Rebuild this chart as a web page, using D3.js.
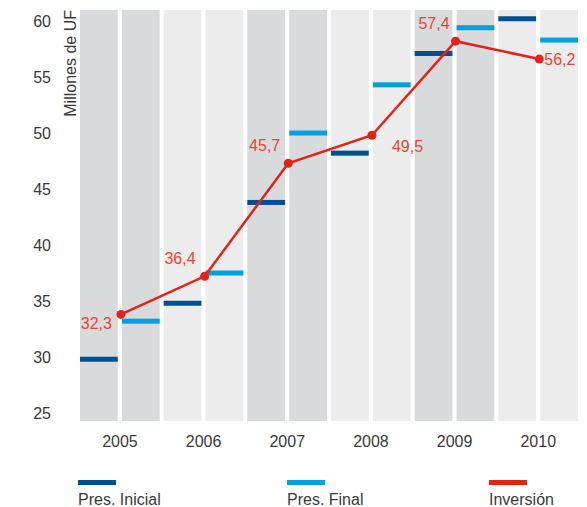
<!DOCTYPE html>
<html>
<head>
<meta charset="utf-8">
<script src="https://cdn.jsdelivr.net/npm/d3@7"></script>
<style>
  body { margin:0; background:#fff; }
  text { font-family:"Liberation Sans", Arial, sans-serif; }
</style>
</head>
<body>
<svg id="chart"></svg>
<script>
// years on the x axis
var years = ["2005","2006","2007","2008","2009","2010"];
// budget bars (millones de UF)
var presInicial = [29.8, 34.8, 43.8, 48.2, 57.1, 60.2];
var presFinal   = [33.2, 37.5, 50.0, 54.3, 59.4, 58.3];
// inversion line, plotted positions and their printed labels
var inversion   = [33.8, 37.2, 47.3, 49.8, 58.2, 56.6];
var invLabels   = ["32,3","36,4","45,7","49,5","57,4","56,2"];
var yTicks      = [25, 30, 35, 40, 45, 50, 55, 60];

var screen = {width:587, height:507};
var plot = {left:80, right:582, top:10, bottom:421};
var fontSize = 16;

var svg = d3.select("#chart")
    .attr("width",screen.width)
    .attr("height",screen.height);

var xScale = d3.scaleBand()
    .domain(years)
    .range([plot.left, plot.right]);

// two sub columns inside each year, with a white gap after each
var subScale = d3.scaleBand()
    .domain(["ini","fin"])
    .range([0, xScale.bandwidth()-4])
    .paddingInner(0.1);

var yScale = d3.scaleLinear()
    .domain([25,60])
    .range([413,21]);

var shades = ["#d9dadc","#ebeceb"];

// background columns
years.forEach(function(year,i)
{
    ["ini","fin"].forEach(function(k)
    {
        svg.append("rect")
            .attr("x",xScale(year)+subScale(k))
            .attr("y",plot.top)
            .attr("width",subScale.bandwidth())
            .attr("height",plot.bottom-plot.top)
            .attr("fill",shades[i%2]);
    });
});

// y axis
var yAxis = d3.axisLeft(yScale).tickValues(yTicks).tickSize(0).tickPadding(0);
var ya = svg.append("g")
    .attr("transform","translate(51,0)")
    .call(yAxis);
ya.select(".domain").remove();
ya.selectAll("text")
    .attr("font-size",fontSize)
    .attr("font-family","Liberation Sans, Arial, sans-serif")
    .attr("fill","#3a3a3a");

svg.append("text")
    .attr("transform","translate(76,10) rotate(-90)")
    .attr("text-anchor","end")
    .attr("font-size",fontSize)
    .attr("fill","#3a3a3a")
    .text("Millones de UF");

// x labels
svg.selectAll(".year")
    .data(years)
    .enter()
    .append("text")
    .attr("x",function(d){ return xScale(d)+subScale("fin")-2; })
    .attr("y",447)
    .attr("text-anchor","middle")
    .attr("font-size",fontSize)
    .attr("fill","#3a3a3a")
    .text(function(d){ return d; });

// budget bars
var drawBars = function(values,key,color)
{
    svg.selectAll(".bar-"+key)
        .data(values)
        .enter()
        .append("rect")
        .attr("x",function(v,i){ return xScale(years[i])+subScale(key); })
        .attr("y",function(v){ return yScale(v)-2.5; })
        .attr("width",subScale.bandwidth())
        .attr("height",5)
        .attr("fill",color);
}
drawBars(presInicial,"ini","#004f91");
drawBars(presFinal,"fin","#00a0e1");

// inversion line
var cx = function(i){ return xScale(years[i])+subScale("fin")-1; };
var line = d3.line()
    .x(function(v,i){ return cx(i); })
    .y(function(v){ return yScale(v); });

svg.append("path")
    .datum(inversion)
    .attr("d",line)
    .attr("fill","none")
    .attr("stroke","#e2231a")
    .attr("stroke-width",2.5);

svg.selectAll(".pt")
    .data(inversion)
    .enter()
    .append("circle")
    .attr("cx",function(v,i){ return cx(i); })
    .attr("cy",function(v){ return yScale(v); })
    .attr("r",4.5)
    .attr("fill","#e2231a");

// label offsets relative to the point
var labelOff = [[-9,15],[-9,-12],[-8,-12],[20,17],[-6,-12],[5,6]];
var labelAnchor = ["end","end","end","start","end","start"];
svg.selectAll(".lbl")
    .data(invLabels)
    .enter()
    .append("text")
    .attr("x",function(d,i){ return cx(i)+labelOff[i][0]; })
    .attr("y",function(d,i){ return yScale(inversion[i])+labelOff[i][1]; })
    .attr("text-anchor",function(d,i){ return labelAnchor[i]; })
    .attr("font-size",fontSize)
    .attr("fill","#e8452f")
    .text(function(d){ return d; });

// legend
var legend = [
    {name:"Pres. Inicial", color:"#004f91", x:78},
    {name:"Pres. Final", color:"#00a0e1", x:287},
    {name:"Inversión", color:"#e2231a", x:489}
];
legend.forEach(function(l)
{
    svg.append("rect")
        .attr("x",l.x).attr("y",480)
        .attr("width",38).attr("height",5)
        .attr("fill",l.color);
    svg.append("text")
        .attr("x",l.x).attr("y",505)
        .attr("font-size",fontSize)
        .attr("fill","#3a3a3a")
        .text(l.name);
});
</script>
</body>
</html>
